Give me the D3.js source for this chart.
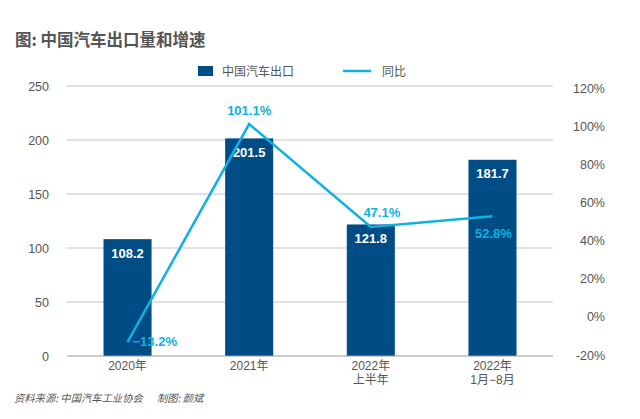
<!DOCTYPE html>
<html><head><meta charset="utf-8">
<script src="https://cdn.jsdelivr.net/npm/d3@7"></script>
<style>
body{margin:0;background:#fff;}
svg{display:block;font-family:"Liberation Sans","Noto Sans CJK SC",sans-serif;}
</style></head>
<body><svg id="c" width="640" height="419"></svg>
<script>
const categories = ["2020年","2021年","2022年\n上半年","2022年\n1月−8月"];
const exports = [108.2, 201.5, 121.8, 181.7];
const yoy = [-13.2, 101.1, 47.1, 52.8];
const leftTicks = [0,50,100,150,200,250];
const rightTicks = [-20,0,20,40,60,80,100,120];

const svg = d3.select("#c");
const x0=67,x1=553,yTop=86,yBot=356;
const x = d3.scaleBand().domain(categories).range([x0,x1]).paddingInner(0.605).paddingOuter(0.3);
const yL = d3.scaleLinear().domain([0,250]).range([yBot,yTop]);
const yR = d3.scaleLinear().domain([-20,120]).range([355,88]);
const cjk = '"Noto Sans CJK SC","Liberation Sans",sans-serif';
const lat = '"Liberation Sans","Noto Sans CJK SC",sans-serif';

svg.append("text").attr("x",15).attr("y",46).text("图: 中国汽车出口量和增速")
  .attr("font-family",cjk).attr("font-weight","bold").attr("font-size",16.5).attr("fill","#555");

svg.append("g").selectAll("line").data(leftTicks.filter(d=>d>0)).join("line")
  .attr("x1",x0).attr("x2",x1).attr("y1",d=>yL(d)).attr("y2",d=>yL(d))
  .attr("stroke","#c4c4c4").attr("stroke-width",1);

const la = svg.append("g").attr("transform",`translate(${x0},0)`)
  .call(d3.axisLeft(yL).tickValues(leftTicks).tickSize(0).tickPadding(18));
la.select(".domain").remove();
la.selectAll("text").attr("font-size",12.5).attr("fill","#555").attr("font-family",lat);

const ra = svg.append("g").attr("transform",`translate(605,0)`)
  .call(d3.axisLeft(yR).tickValues(rightTicks).tickSize(0).tickPadding(0).tickFormat(d=>d+"%"));
ra.select(".domain").remove();
ra.selectAll("text").attr("font-size",12.5).attr("fill","#555").attr("font-family",lat);

svg.append("g").selectAll("rect").data(exports).join("rect")
  .attr("x",(d,i)=>x(categories[i])).attr("width",x.bandwidth())
  .attr("y",d=>yL(d)).attr("height",d=>yBot-yL(d)).attr("fill","#004d86");

svg.append("line").attr("x1",x0).attr("x2",x1).attr("y1",yBot).attr("y2",yBot)
  .attr("stroke","#9a9a9a").attr("stroke-width",1.2);

svg.append("g").selectAll("text").data(exports).join("text")
  .attr("x",(d,i)=>x(categories[i])+x.bandwidth()/2).attr("y",d=>yL(d)+18.5)
  .attr("text-anchor","middle").attr("fill","#fff").attr("font-weight","bold").attr("font-size",13)
  .text(d=>d.toFixed(1));

const cx = i=>x(categories[i])+x.bandwidth()/2;
svg.append("path").datum(yoy)
  .attr("d",d3.line().x((d,i)=>cx(i)).y(d=>yR(d)))
  .attr("fill","none").attr("stroke","#0fb0e4").attr("stroke-width",2.5);

const offs = [[5,4,"start"],[0,-9,"middle"],[11,-10,"middle"],[1,22,"middle"]];
svg.append("g").selectAll("text").data(yoy).join("text")
  .attr("x",(d,i)=>cx(i)+offs[i][0]).attr("y",(d,i)=>yR(d)+offs[i][1])
  .attr("text-anchor",(d,i)=>offs[i][2])
  .attr("fill","#0fb0e4").attr("font-weight","bold").attr("font-size",13)
  .text(d=>(d<0?"−"+Math.abs(d).toFixed(1):d.toFixed(1))+"%");

categories.forEach((c,i)=>{
  c.split("\n").forEach((l,j)=>{
    svg.append("text").attr("x",cx(i)).attr("y",370+j*13.5).attr("text-anchor","middle")
      .attr("font-size",12).attr("fill","#555").attr("font-family",lat).text(l);
  });
});

svg.append("rect").attr("x",198).attr("y",66).attr("width",15).attr("height",10).attr("fill","#004d86");
svg.append("text").attr("x",222).attr("y",75.5).text("中国汽车出口").attr("font-size",12).attr("fill","#555").attr("font-family",cjk);
svg.append("line").attr("x1",343).attr("x2",371).attr("y1",71).attr("y2",71).attr("stroke","#0fb0e4").attr("stroke-width",2.5);
svg.append("text").attr("x",382).attr("y",75.5).text("同比").attr("font-size",12).attr("fill","#555").attr("font-family",cjk);

svg.append("text").attr("x",14).attr("y",402).attr("font-size",10.3).attr("fill","#555")
  .attr("font-style","italic").attr("font-family",cjk).text("资料来源: 中国汽车工业协会");
svg.append("text").attr("x",157).attr("y",402).attr("font-size",10.3).attr("fill","#555")
  .attr("font-style","italic").attr("font-family",cjk).text("制图: 颜斌");
</script></body></html>
